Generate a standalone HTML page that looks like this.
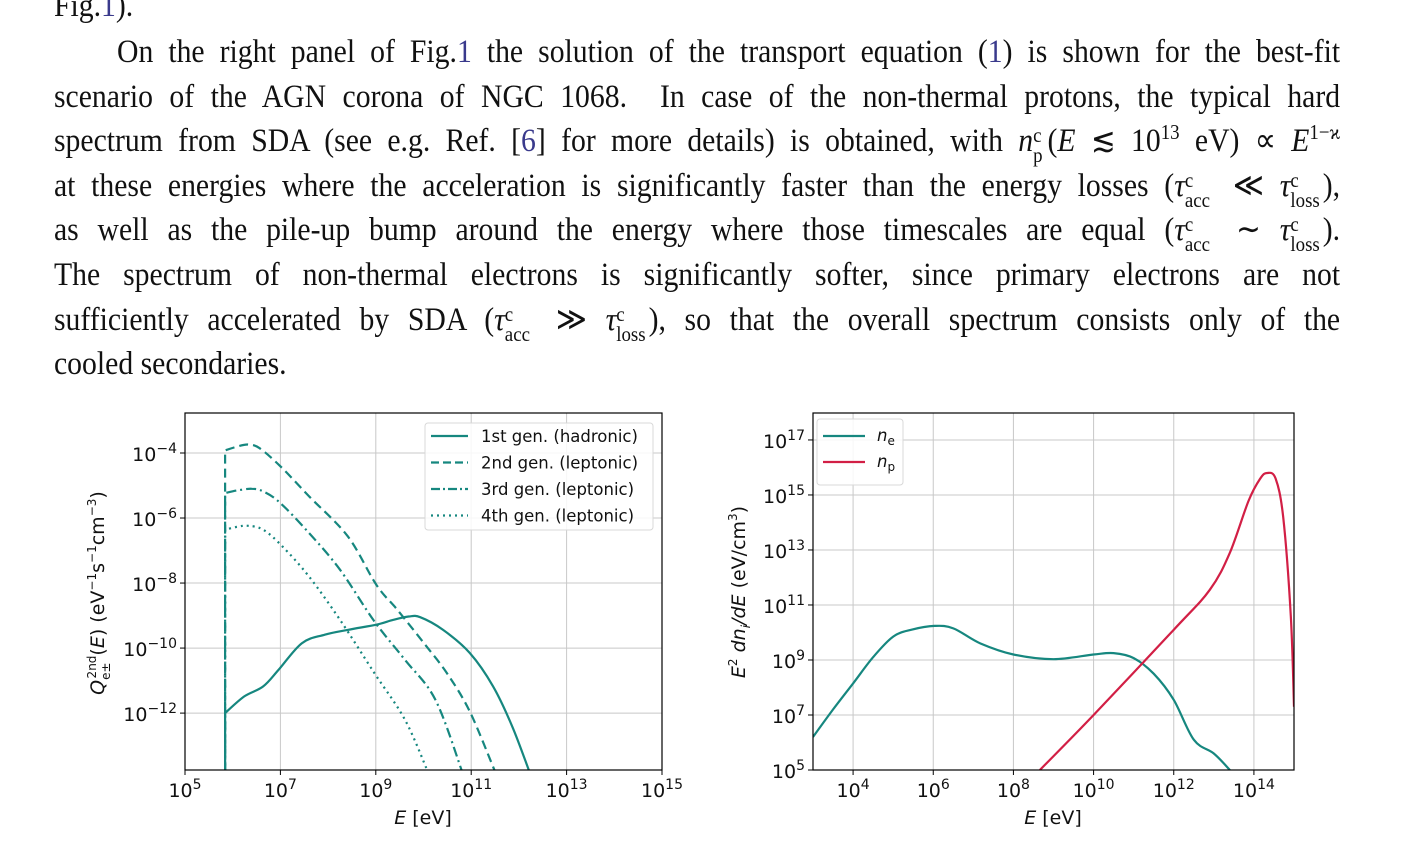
<!DOCTYPE html>
<html><head><meta charset="utf-8">
<style>
html,body{margin:0;padding:0;background:#fff;}
body{width:1404px;height:863px;position:relative;overflow:hidden;}
.ln{position:absolute;left:54px;width:1429px;height:36px;line-height:36px;font-family:"Liberation Serif",serif;font-size:33px;color:#111;text-align:justify;text-align-last:justify;white-space:nowrap;transform:scaleX(0.9);transform-origin:0 0;}
.ln.nj{text-align-last:left;}
.lk{color:#3a3a8c;}
.m{font-style:italic;}
sub,sup{font-size:21px;line-height:0;}
.ss{display:inline-block;position:relative;width:36px;height:10px;vertical-align:baseline;}
.ss .u{position:absolute;left:0;top:-24px;font-size:21px;}
.ss .d{position:absolute;left:0;top:-4px;font-size:21px;}
svg text{font-family:"DejaVu Sans","Liberation Sans",sans-serif;}
</style></head><body>
<div class="ln nj" style="top:-12px">Fig.<span class="lk">1</span>).</div>
<div class="ln" style="top:34px;left:117px;width:1359px">On the right panel of Fig.<span class="lk">1</span> the solution of the transport equation (<span class="lk">1</span>) is shown for the best-fit</div>
<div class="ln" style="top:79px">scenario of the AGN corona of NGC 1068.&nbsp; In case of the non-thermal protons, the typical hard</div>
<div class="ln" style="top:123px">spectrum from SDA (see e.g. Ref. [<span class="lk">6</span>] for more details) is obtained, with <span class="m">n</span><span class="ss" style="width:16px"><span class="u">c</span><span class="d">p</span></span>(<span class="m">E</span> ≲ 10<sup>13</sup> eV) ∝ <span class="m">E</span><sup>1−ϰ</sup></div>
<div class="ln" style="top:168px">at these energies where the acceleration is significantly faster than the energy losses (<span class="m">τ</span><span class="ss"><span class="u">c</span><span class="d">acc</span></span> ≪ <span class="m">τ</span><span class="ss"><span class="u">c</span><span class="d">loss</span></span>),</div>
<div class="ln" style="top:212px">as well as the pile-up bump around the energy where those timescales are equal (<span class="m">τ</span><span class="ss"><span class="u">c</span><span class="d">acc</span></span> ∼ <span class="m">τ</span><span class="ss"><span class="u">c</span><span class="d">loss</span></span>).</div>
<div class="ln" style="top:257px">The spectrum of non-thermal electrons is significantly softer, since primary electrons are not</div>
<div class="ln" style="top:302px">sufficiently accelerated by SDA (<span class="m">τ</span><span class="ss"><span class="u">c</span><span class="d">acc</span></span> ≫ <span class="m">τ</span><span class="ss"><span class="u">c</span><span class="d">loss</span></span>), so that the overall spectrum consists only of the</div>
<div class="ln nj" style="top:346px">cooled secondaries.</div>

<svg id="fig" width="1404" height="863" style="position:absolute;left:0;top:0"></svg>
<script>
// Left panel data (log10 E, log10 Q)
const gen1X=[5.84,5.84,6.24,6.64,6.96,7.45,7.93,8.41,9.01,9.37,9.69,9.93,10.41,10.97,11.46,11.86,12.22];
const gen1Y=[-13.8,-12,-11.49,-11.18,-10.67,-9.85,-9.59,-9.44,-9.28,-9.13,-9.03,-9.05,-9.44,-10.15,-11.18,-12.41,-13.8];
const gen2X=[5.84,5.84,6.1,6.32,6.56,7.0,7.6,8.41,9.01,9.45,10.01,10.49,10.97,11.5];
const gen2Y=[-13.8,-3.92,-3.8,-3.74,-3.85,-4.41,-5.33,-6.56,-8.05,-8.82,-9.85,-10.77,-11.95,-13.8];
const gen3X=[5.84,5.84,6.1,6.4,6.64,7.0,7.6,8.25,8.97,9.61,10.25,10.81];
const gen3Y=[-13.8,-5.23,-5.15,-5.1,-5.18,-5.54,-6.46,-7.59,-9.18,-10.36,-11.59,-13.8];
const gen4X=[5.84,5.84,6.1,6.32,6.64,7.04,7.6,8.25,8.97,9.61,10.09];
const gen4Y=[-13.8,-6.36,-6.27,-6.24,-6.36,-6.87,-7.8,-9.13,-10.77,-12.2,-13.8];
const leftXTicks=[5,7,9,11,13,15];
const leftYTicks=[-4,-6,-8,-10,-12];
const legendLeft=["1st gen. (hadronic)","2nd gen. (leptonic)","3rd gen. (leptonic)","4th gen.  (leptonic)"];
// Right panel data
const neX=[3,3.5,4,4.5,5,5.46,6.03,6.5,7.18,8,9,10,10.5,11,11.5,12,12.5,13,13.4];
const neY=[6.2,7.2,8.15,9.1,9.85,10.1,10.24,10.15,9.6,9.2,9.03,9.2,9.25,9.07,8.5,7.55,6.1,5.6,5.0];
const npX=[8.66,10,12,12.9,13.4,13.87,14.16,14.33,14.54,14.73,14.92,15];
const npY=[5,7,10.1,11.55,12.9,14.8,15.6,15.8,15.6,14.2,10.6,7.3];
const rightXTicks=[4,6,8,10,12,14];
const rightYTicks=[5,7,9,11,13,15,17];

const NS="http://www.w3.org/2000/svg";
const svg=document.getElementById('fig');
function el(tag,attrs,parent){const e=document.createElementNS(NS,tag);for(const k in attrs)e.setAttribute(k,attrs[k]);(parent||svg).appendChild(e);return e;}
const TEAL="#16877f", RED="#d21f45";

function axes(p){
  p.sx=v=>p.L+(v-p.x0)/(p.x1-p.x0)*(p.R-p.L);
  p.sy=v=>p.B-(v-p.y0)/(p.y1-p.y0)*(p.B-p.T);
  const g=el('g',{});
  
  
  p.xt.forEach(t=>{const x=p.sx(t);
    const l=el('line',{x1:x,x2:x,y1:p.T,y2:p.B,stroke:'#c8c8c8','stroke-width':1},g);
    
    el('line',{x1:x,x2:x,y1:p.B,y2:p.B+5,stroke:'#000'},g);
    const tx=el('text',{x:x,y:p.B+27,'text-anchor':'middle','font-size':19,fill:'#111'},g);
    
    tx.innerHTML='10<tspan dy="-8" font-size="14">'+t+'</tspan>';
  });
  p.yt.forEach(t=>{const y=p.sy(t);
    const l=el('line',{x1:p.L,x2:p.R,y1:y,y2:y,stroke:'#c8c8c8','stroke-width':1},g);
    
    el('line',{x1:p.L-5,x2:p.L,y1:y,y2:y,stroke:'#000'},g);
    const lab=String(t).replace('-','−');
    const tx=el('text',{x:p.L-8,y:y+8,'text-anchor':'end','font-size':19,fill:'#111'},g);
    
    tx.innerHTML='10<tspan dy="-8" font-size="14">'+lab+'</tspan>';
  });
  return g;
}
function smooth(pts){
  let d='M'+pts[0][0].toFixed(1)+','+pts[0][1].toFixed(1);
  for(let i=0;i<pts.length-1;i++){
    const p0=pts[Math.max(0,i-1)],p1=pts[i],p2=pts[i+1],p3=pts[Math.min(pts.length-1,i+2)];
    if(Math.abs(p1[0]-p2[0])<0.5){d+='L'+p2[0].toFixed(1)+','+p2[1].toFixed(1);continue;}
    const q0=(Math.abs(p0[0]-p1[0])<0.5)?p1:p0;
    const q3=(Math.abs(p3[0]-p2[0])<0.5)?p2:p3;
    const c1=[p1[0]+(p2[0]-q0[0])/6,p1[1]+(p2[1]-q0[1])/6];
    const c2=[p2[0]-(q3[0]-p1[0])/6,p2[1]-(q3[1]-p1[1])/6];
    d+='C'+c1.map(v=>v.toFixed(1)).join(',')+' '+c2.map(v=>v.toFixed(1)).join(',')+' '+p2[0].toFixed(1)+','+p2[1].toFixed(1);
  }
  return d;
}
function series(p,xs,ys,color,dash,name){
  const clip=p.name+'-clip';
  const pts=xs.map((x,i)=>[p.sx(x),p.sy(ys[i])]);
  const a={d:smooth(pts),fill:'none',stroke:color,'stroke-width':2.2,'stroke-linejoin':'round','clip-path':'url(#'+clip+')'};
  if(dash)a['stroke-dasharray']=dash;
  const e=el('path',a);
  
  
}
function frame(p){const r=el('rect',{x:p.L,y:p.T,width:p.R-p.L,height:p.B-p.T,fill:'none',stroke:'#000','stroke-width':1.2});
  }
const defs=el('defs',{});

const PL={name:'left-panel',L:185,R:662,T:413,B:770,x0:5,x1:15,y0:-13.75,y1:-2.77,xt:leftXTicks,yt:leftYTicks};
const PR={name:'right-panel',L:813,R:1294,T:413,B:770,x0:3,x1:15,y0:5,y1:17.98,xt:rightXTicks,yt:rightYTicks};
[PL,PR].forEach(p=>{const c=el('clipPath',{id:p.name+'-clip'},defs);el('rect',{x:p.L,y:p.T,width:p.R-p.L,height:p.B-p.T},c);axes(p);});

series(PL,gen1X,gen1Y,TEAL,null,'line-1st-gen');
series(PL,gen2X,gen2Y,TEAL,'9,5','line-2nd-gen');
series(PL,gen3X,gen3Y,TEAL,'10,4,2,4','line-3rd-gen');
series(PL,gen4X,gen4Y,TEAL,'2,4','line-4th-gen');
series(PR,neX,neY,TEAL,null,'line-ne');
series(PR,npX,npY,RED,null,'line-np');
frame(PL);frame(PR);

// left legend
const lg=el('g',{});


el('rect',{x:425,y:423,width:228,height:107,rx:3,fill:'#fff','fill-opacity':0.85,stroke:'#d8d8d8'},lg);
const dashes=[null,'8,4','9,3,2,3','2,4'];
legendLeft.forEach((s,i)=>{const y=436+i*26.5;
  const l=el('line',{x1:431,x2:468,y1:y,y2:y,stroke:TEAL,'stroke-width':2.2},lg);
  if(dashes[i])l.setAttribute('stroke-dasharray',dashes[i]);
  const t=el('text',{x:481,y:y+6,'font-size':16.5,fill:'#111'},lg);
  
  t.textContent=s;});
// right legend
const rg=el('g',{});


el('rect',{x:817,y:419,width:86,height:66,rx:3,fill:'#fff','fill-opacity':0.85,stroke:'#d8d8d8'},rg);
[['e',TEAL],['p',RED]].forEach((a,i)=>{const y=436+i*26;
  el('line',{x1:823,x2:865,y1:y,y2:y,stroke:a[1],'stroke-width':2.2},rg);
  const t=el('text',{x:877,y:y+5,'font-size':16.5,fill:'#111'},rg);
  
  t.innerHTML='<tspan font-style="italic">n</tspan><tspan dy="4" font-size="12">'+a[0]+'</tspan>';});

// axis titles
function title(x,y,html,rot,name){const t=el('text',{x:x,y:y,'text-anchor':'middle','font-size':19,fill:'#111'});
  if(rot)t.setAttribute('transform','rotate(-90 '+x+' '+y+')');
  
  t.innerHTML=html;}
title(423,824,'<tspan font-style="italic">E</tspan> [eV]',false,'x-axis-title-left');
title(1053,824,'<tspan font-style="italic">E</tspan> [eV]',false,'x-axis-title-right');
title(104,593,'<tspan font-style="italic">Q</tspan><tspan dy="6" font-size="12">e±</tspan><tspan dy="-14" dx="-16" font-size="12">2nd</tspan><tspan dy="8">(</tspan><tspan font-style="italic">E</tspan>) (eV<tspan dy="-8" font-size="12">−1</tspan><tspan dy="8">s</tspan><tspan dy="-8" font-size="12">−1</tspan><tspan dy="8">cm</tspan><tspan dy="-8" font-size="12">−3</tspan><tspan dy="8">)</tspan>',true,'y-axis-title-left');
title(745,592,'<tspan font-style="italic">E</tspan><tspan dy="-8" font-size="12">2</tspan><tspan dy="8" font-style="italic"> dn</tspan><tspan dy="5" font-size="12" font-style="italic">i</tspan><tspan dy="-5" font-style="italic">/dE</tspan> (eV/cm<tspan dy="-8" font-size="12">3</tspan><tspan dy="8">)</tspan>',true,'y-axis-title-right');
</script>
</body></html>
